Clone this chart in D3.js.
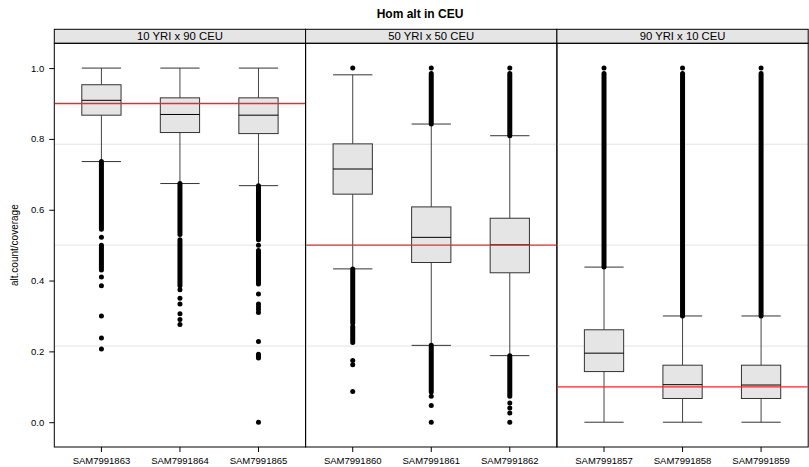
<!DOCTYPE html>
<html lang="en">
<head>
    <meta charset="UTF-8">
    <title>Hom alt in CEU</title>
    <script src="https://cdnjs.cloudflare.com/ajax/libs/d3/7.8.5/d3.min.js"></script>
    <style>
        body { margin: 0; background: #fff; }
        text { font-family: "Liberation Sans", Arial, sans-serif; }
    </style>
</head>
<body>
<svg width="809" height="467"></svg>
<script>
    // panels (conditioning levels) and samples inside each
    const panels = ["10 YRI x 90 CEU", "50 YRI x 50 CEU", "90 YRI x 10 CEU"];
    const samples = [
        ["SAM7991863", "SAM7991864", "SAM7991865"],
        ["SAM7991860", "SAM7991861", "SAM7991862"],
        ["SAM7991857", "SAM7991858", "SAM7991859"]
    ];
    const expected = [0.9, 0.5, 0.1];          // red reference line per panel
    const guides = [0.215, 0.5, 0.785];        // grey reference lines
    const yTicks = [0.0, 0.2, 0.4, 0.6, 0.8, 1.0];

    // box stats, per panel, per sample
    const whiskerHigh = [[1.0, 1.0, 1.0], [0.981, 0.842, 0.809], [0.438, 0.300, 0.300]];
    const q3 = [[0.953, 0.916, 0.916], [0.786, 0.608, 0.576], [0.261, 0.161, 0.161]];
    const median = [[0.909, 0.869, 0.867], [0.715, 0.522, 0.501], [0.195, 0.106, 0.105]];
    const q1 = [[0.867, 0.818, 0.815], [0.644, 0.451, 0.422], [0.143, 0.067, 0.067]];
    const whiskerLow = [[0.736, 0.674, 0.668], [0.433, 0.217, 0.188], [0.0, 0.0, 0.0]];

    // runs of outliers so dense they merge into a bar: [top, bottom]
    const outlierRuns = [
        [[[0.736, 0.545], [0.495, 0.43]], [[0.674, 0.53], [0.515, 0.385]], [[0.668, 0.515], [0.485, 0.39]]],
        [[[0.433, 0.28], [0.27, 0.225]], [[0.985, 0.842], [0.217, 0.085]], [[0.985, 0.809], [0.188, 0.073]]],
        [[[0.985, 0.438]], [[0.985, 0.300]], [[0.985, 0.300]]]
    ];
    // single outliers
    const outlierPoints = [
        [[0.522, 0.5, 0.41, 0.385, 0.30, 0.238, 0.207],
         [0.374, 0.35, 0.334, 0.306, 0.29, 0.276],
         [0.50, 0.362, 0.334, 0.326, 0.318, 0.31, 0.228, 0.192, 0.186, 0.181, 0.0]],
        [[1.0, 0.174, 0.162, 0.087],
         [1.0, 0.073, 0.047, 0.0],
         [1.0, 0.054, 0.04, 0.026, 0.0]],
        [[1.0], [1.0], [1.0]]
    ];

    const svg = d3.select('svg');
    const plotLeft = 54.3, panelW = 251.3, plotTop = 43.3, plotBottom = 447, stripH = 14;

    const y = d3.scaleLinear().domain([-0.07, 1.07]).range([plotBottom, plotTop]);
    const px = d3.scaleBand().domain(d3.range(panels.length))
        .range([plotLeft, plotLeft + panelW * panels.length]);

    // title
    svg.append('text')
        .attr('x', 420).attr('y', 18)
        .attr('text-anchor', 'middle')
        .attr('font-size', '12px').attr('font-weight', 'bold')
        .text('Hom alt in CEU');

    // y label
    svg.append('text')
        .attr('transform', `translate(18,${(plotTop + plotBottom) / 2}) rotate(-90)`)
        .attr('text-anchor', 'middle')
        .attr('font-size', '10px')
        .attr('fill', '#000')
        .text('alt.count/coverage');

    // y axis
    const yAxis = svg.append('g')
        .attr('transform', `translate(${plotLeft},0)`)
        .call(d3.axisLeft(y).tickValues(yTicks).tickFormat(d3.format('.1f'))
            .tickSize(5).tickSizeOuter(0).tickPadding(5));
    yAxis.select('.domain').remove();
    yAxis.selectAll('text').attr('font-size', '9.5px').attr('font-family', null).attr('fill', '#000');
    yAxis.selectAll('line').attr('stroke', '#000');

    panels.forEach((name, p) => {
        const x0 = px(p);
        const x = d3.scaleBand().domain(samples[p])
            .range([x0, x0 + panelW]).paddingInner(0.5).paddingOuter(0.35);
        const bw = x.bandwidth();
        const g = svg.append('g');

        // strip
        g.append('rect')
            .attr('x', x0).attr('y', plotTop - stripH)
            .attr('width', panelW).attr('height', stripH)
            .attr('fill', '#e5e5e5').attr('stroke', '#000').attr('stroke-width', 1);
        g.append('text')
            .attr('x', x0 + panelW / 2).attr('y', plotTop - 3.5)
            .attr('text-anchor', 'middle')
            .attr('font-size', '11.3px')
            .text(name);

        // grey guide lines
        g.selectAll('line.guide').data(guides).join('line')
            .attr('class', 'guide')
            .attr('x1', x0).attr('x2', x0 + panelW)
            .attr('y1', d => y(d)).attr('y2', d => y(d))
            .attr('stroke', '#e3e3e3').attr('stroke-width', 1);

        samples[p].forEach((s, i) => {
            const cx = x(s) + bw / 2;
            const b = g.append('g');
            // whiskers
            b.append('line')
                .attr('x1', cx).attr('x2', cx)
                .attr('y1', y(q3[p][i])).attr('y2', y(whiskerHigh[p][i]))
                .attr('stroke', '#444');
            b.append('line')
                .attr('x1', cx).attr('x2', cx)
                .attr('y1', y(q1[p][i])).attr('y2', y(whiskerLow[p][i]))
                .attr('stroke', '#444');
            [whiskerHigh[p][i], whiskerLow[p][i]].forEach(v => {
                b.append('line')
                    .attr('x1', x(s)).attr('x2', x(s) + bw)
                    .attr('y1', y(v)).attr('y2', y(v))
                    .attr('stroke', '#333');
            });
            // box
            b.append('rect')
                .attr('x', x(s)).attr('y', y(q3[p][i]))
                .attr('width', bw).attr('height', y(q1[p][i]) - y(q3[p][i]))
                .attr('fill', '#e5e5e5').attr('stroke', '#333').attr('stroke-width', 1);
            b.append('line')
                .attr('x1', x(s)).attr('x2', x(s) + bw)
                .attr('y1', y(median[p][i])).attr('y2', y(median[p][i]))
                .attr('stroke', '#000');

            // outliers
            b.selectAll('line.run').data(outlierRuns[p][i]).join('line')
                .attr('class', 'run')
                .attr('x1', cx).attr('x2', cx)
                .attr('y1', d => y(d[0])).attr('y2', d => y(d[1]))
                .attr('stroke', '#000').attr('stroke-width', 5)
                .attr('stroke-linecap', 'round');
            b.selectAll('circle').data(outlierPoints[p][i]).join('circle')
                .attr('cx', cx).attr('cy', d => y(d)).attr('r', 2.5)
                .attr('fill', '#000');
        });

        // panel border
        g.append('rect')
            .attr('x', x0).attr('y', plotTop)
            .attr('width', panelW).attr('height', plotBottom - plotTop)
            .attr('fill', 'none').attr('stroke', '#000').attr('stroke-width', 1);

        // x axis
        const xAxis = g.append('g')
            .attr('transform', `translate(0,${plotBottom})`)
            .call(d3.axisBottom(x).tickSize(5).tickSizeOuter(0).tickPadding(5));
        xAxis.select('.domain').remove();
        xAxis.selectAll('text').attr('font-size', '9.5px').attr('font-family', null).attr('fill', '#000');
        xAxis.selectAll('line').attr('stroke', '#000');
    });

    // expected value lines, drawn last on top of everything
    svg.append('g').selectAll('line').data(expected).join('line')
        .attr('x1', (d, p) => px(p) + 0.5).attr('x2', (d, p) => px(p) + panelW - 0.5)
        .attr('y1', d => y(d)).attr('y2', d => y(d))
        .attr('stroke', 'rgb(240,40,40)').attr('stroke-width', 1.3);
</script>
</body>
</html>
